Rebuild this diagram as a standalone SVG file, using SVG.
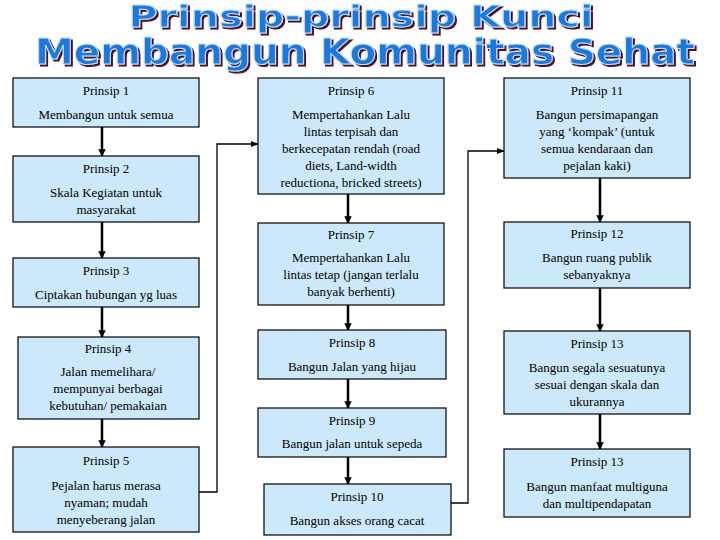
<svg xmlns="http://www.w3.org/2000/svg" width="720" height="540" viewBox="0 0 720 540">
<defs>
<style>
.b{fill:#cce9fb;stroke:#000;stroke-width:1.2}
.t{font-family:"Liberation Serif",serif;font-size:13px;text-anchor:middle;fill:#000}
.c{fill:none;stroke:#000;stroke-width:1.3}
.a{fill:none;stroke:#000;stroke-width:2.5}
.h{font-family:"DejaVu Sans",sans-serif;font-weight:bold;fill:#1e78dc;stroke:#bfe0ff;stroke-width:1;text-anchor:middle;filter:url(#sh)}
</style>
<filter id="sh" x="-5%" y="-20%" width="110%" height="150%"><feDropShadow dx="2" dy="2" stdDeviation="0" flood-color="#5a0a14"/></filter>
<marker id="m" viewBox="0 0 10 10" refX="9" refY="5" markerWidth="3" markerHeight="3" orient="auto"><path d="M0,0L10,5L0,10z" fill="#000"/></marker>
<marker id="m2" viewBox="0 0 10 10" refX="9" refY="5" markerWidth="6" markerHeight="6" orient="auto"><path d="M0,1L10,5L0,9z" fill="#000"/></marker>
</defs>
<rect width="720" height="540" fill="#fff"/>
<g id="title">
<text x="361" y="27" class="h" font-size="30" textLength="465" lengthAdjust="spacingAndGlyphs">Prinsip-prinsip Kunci</text>
<text x="365" y="64" class="h" font-size="36" textLength="660" lengthAdjust="spacingAndGlyphs">Membangun Komunitas Sehat</text>
</g>
<g id="connectors">
<path class="a" d="M102 127V156" marker-end="url(#m)"/>
<path class="a" d="M102 222V258" marker-end="url(#m)"/>
<path class="a" d="M102 307V337" marker-end="url(#m)"/>
<path class="a" d="M102 419V447" marker-end="url(#m)"/>
<path class="c" d="M199 492H217V144H258" marker-end="url(#m2)"/>
<path class="a" d="M348 194V223" marker-end="url(#m)"/>
<path class="a" d="M348 305V330" marker-end="url(#m)"/>
<path class="a" d="M348 379V408" marker-end="url(#m)"/>
<path class="a" d="M348 457V484" marker-end="url(#m)"/>
<path class="c" d="M451 503H468V151H504" marker-end="url(#m2)"/>
<path class="a" d="M600 178V222" marker-end="url(#m)"/>
<path class="a" d="M600 288V331" marker-end="url(#m)"/>
<path class="a" d="M600 414V449" marker-end="url(#m)"/>
</g>
<g id="p1"><rect class="b" x="13" y="78" width="186" height="49"/><text class="t" x="106" y="95">Prinsip 1</text><text class="t" x="106" y="119">Membangun untuk semua</text></g>
<g id="p2"><rect class="b" x="13" y="156" width="186" height="66"/><text class="t" x="106" y="173">Prinsip 2</text><text class="t" x="106" y="197">Skala Kegiatan untuk</text><text class="t" x="106" y="214">masyarakat</text></g>
<g id="p3"><rect class="b" x="13" y="258" width="186" height="49"/><text class="t" x="106" y="275">Prinsip 3</text><text class="t" x="106" y="299">Ciptakan hubungan yg luas</text></g>
<g id="p4"><rect class="b" x="18" y="337" width="181" height="82"/><text class="t" x="108" y="353">Prinsip 4</text><text class="t" x="108" y="376">Jalan memelihara/</text><text class="t" x="108" y="393">mempunyai berbagai</text><text class="t" x="108" y="410">kebutuhan/ pemakaian</text></g>
<g id="p5"><rect class="b" x="13" y="447" width="186" height="85"/><text class="t" x="106" y="465">Prinsip 5</text><text class="t" x="106" y="490">Pejalan harus merasa</text><text class="t" x="106" y="507">nyaman; mudah</text><text class="t" x="106" y="524">menyeberang jalan</text></g>
<g id="p6"><rect class="b" x="258" y="78" width="186" height="116"/><text class="t" x="351" y="95">Prinsip 6</text><text class="t" x="351" y="119">Mempertahankan Lalu</text><text class="t" x="351" y="136">lintas terpisah dan</text><text class="t" x="351" y="153">berkecepatan rendah (road</text><text class="t" x="351" y="170">diets, Land-width</text><text class="t" x="351" y="187">reductiona, bricked streets)</text></g>
<g id="p7"><rect class="b" x="258" y="223" width="186" height="82"/><text class="t" x="351" y="239">Prinsip 7</text><text class="t" x="351" y="262">Mempertahankan Lalu</text><text class="t" x="351" y="279">lintas tetap (jangan terlalu</text><text class="t" x="351" y="296">banyak berhenti)</text></g>
<g id="p8"><rect class="b" x="258" y="330" width="188" height="49"/><text class="t" x="352" y="347">Prinsip 8</text><text class="t" x="352" y="371">Bangun Jalan yang hijau</text></g>
<g id="p9"><rect class="b" x="258" y="408" width="188" height="49"/><text class="t" x="352" y="425">Prinsip 9</text><text class="t" x="352" y="448">Bangun jalan untuk sepeda</text></g>
<g id="p10"><rect class="b" x="264" y="484" width="187" height="51"/><text class="t" x="357" y="501">Prinsip 10</text><text class="t" x="357" y="525">Bangun akses orang cacat</text></g>
<g id="p11"><rect class="b" x="504" y="78" width="186" height="100"/><text class="t" x="597" y="95">Prinsip 11</text><text class="t" x="597" y="119">Bangun persimapangan</text><text class="t" x="597" y="136">yang ‘kompak’ (untuk</text><text class="t" x="597" y="153">semua kendaraan dan</text><text class="t" x="597" y="170">pejalan kaki)</text></g>
<g id="p12"><rect class="b" x="504" y="222" width="186" height="66"/><text class="t" x="597" y="238">Prinsip 12</text><text class="t" x="597" y="262">Bangun ruang publik</text><text class="t" x="597" y="279">sebanyaknya</text></g>
<g id="p13"><rect class="b" x="504" y="331" width="186" height="83"/><text class="t" x="597" y="348">Prinsip 13</text><text class="t" x="597" y="372">Bangun segala sesuatunya</text><text class="t" x="597" y="389">sesuai dengan skala dan</text><text class="t" x="597" y="406">ukurannya</text></g>
<g id="p13b"><rect class="b" x="504" y="449" width="186" height="68"/><text class="t" x="597" y="466">Prinsip 13</text><text class="t" x="597" y="491">Bangun manfaat multiguna</text><text class="t" x="597" y="508">dan multipendapatan</text></g>
</svg>
